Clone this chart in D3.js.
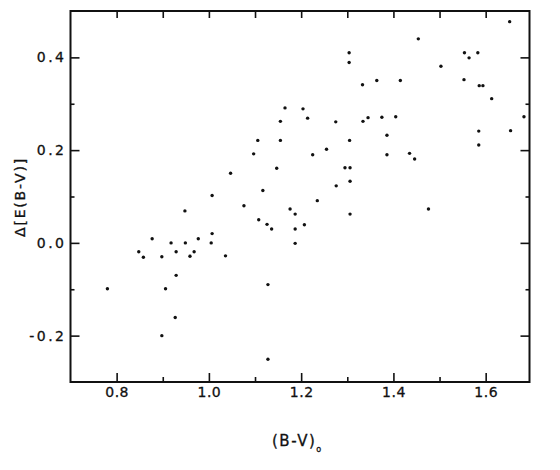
<!DOCTYPE html>
<html>
<head>
<meta charset="utf-8">
<script src="https://cdn.jsdelivr.net/npm/d3@7"></script>
<style>
    body { margin: 0; background: #fff; }
    text { font-family: 'DejaVu Sans', sans-serif; fill: #111; stroke: #111; stroke-width: 0.3px; }
</style>
</head>
<body>
<svg id="chart" width="560" height="470"></svg>
<script>
// DATA
// intrinsic colour (B-V)o of each star
var bv = [0.780, 0.848, 0.858, 0.877, 0.898, 0.898, 0.906, 0.918, 0.927, 0.929,
          0.929, 0.948, 0.949, 0.959, 0.968, 0.977, 1.005, 1.007, 1.007, 1.036,
          1.047, 1.076, 1.097, 1.106, 1.108, 1.117, 1.126, 1.128, 1.128, 1.136,
          1.147, 1.155, 1.155, 1.165, 1.176, 1.187, 1.187, 1.187, 1.204, 1.207,
          1.214, 1.225, 1.235, 1.255, 1.275, 1.276, 1.295, 1.304, 1.304, 1.305,
          1.306, 1.306, 1.306, 1.333, 1.334, 1.345, 1.364, 1.375, 1.386, 1.386,
          1.405, 1.415, 1.435, 1.446, 1.454, 1.476, 1.503, 1.553, 1.554, 1.564,
          1.583, 1.585, 1.585, 1.586, 1.594, 1.613, 1.652, 1.654, 1.683];
// colour excess difference Δ[E(B-V)]
var dE = [-0.099, -0.019, -0.031, 0.009, -0.030, -0.200, -0.099, 0.000, -0.161, -0.019,
          -0.070, 0.069, 0.000, -0.029, -0.019, 0.009, 0.000, 0.020, 0.102, -0.028,
          0.150, 0.080, 0.192, 0.221, 0.050, 0.113, 0.040, -0.090, -0.251, 0.030,
          0.161, 0.221, 0.262, 0.291, 0.073, 0.062, 0.030, -0.001, 0.289, 0.039,
          0.269, 0.190, 0.091, 0.202, 0.261, 0.123, 0.162, 0.410, 0.389, 0.221,
          0.162, 0.133, 0.062, 0.341, 0.262, 0.270, 0.350, 0.271, 0.232, 0.190,
          0.272, 0.350, 0.193, 0.181, 0.440, 0.073, 0.381, 0.352, 0.410, 0.399,
          0.410, 0.241, 0.211, 0.339, 0.339, 0.311, 0.477, 0.242, 0.272];

// ticks
var xMajor = [0.8, 1.0, 1.2, 1.4, 1.6];
var xMinor = [0.9, 1.1, 1.3, 1.5];
var xTop = [0.8, 0.9, 1.0, 1.1, 1.2, 1.3, 1.4, 1.5, 1.6];
var yMajor = [-0.2, 0.0, 0.2, 0.4];
var yMinor = [-0.1, 0.1, 0.3];

//.................................................................................................//
// SCALES
var svg = d3.select('#chart');
var pLeft = 70.5, pRight = 529.5, pTop = 11, pBottom = 382;

var x = d3.scaleLinear().domain([0.7, 1.695]).range([pLeft, pRight]);
var y = d3.scaleLinear().domain([-0.3, 0.5]).range([pBottom, pTop]);

// plain hyphen for negatives, as on the original plot
var fmt = function(d) { return d3.format('.1f')(d).replace('\u2212', '-'); };

//.................................................................................................//
// AXES
function styleAxis(g) {
    g.select('.domain').remove();
    g.selectAll('.tick line').attr('stroke', '#111').attr('stroke-width', 1.6);
}

// bottom
svg.append('g')
    .attr('transform', 'translate(0,' + pBottom + ')')
    .call(d3.axisBottom(x).tickValues(xMajor).tickSize(-9).tickPadding(5).tickFormat(fmt))
    .call(styleAxis)
    .selectAll('text')
        .style('font-size', '14px')
        .style('letter-spacing', '0.5px');
svg.append('g')
    .attr('transform', 'translate(0,' + pBottom + ')')
    .call(d3.axisBottom(x).tickValues(xMinor).tickSize(-5).tickFormat(''))
    .call(styleAxis);

// top
svg.append('g')
    .attr('transform', 'translate(0,' + pTop + ')')
    .call(d3.axisTop(x).tickValues(xTop).tickSize(-7).tickFormat(''))
    .call(styleAxis);

// left
svg.append('g')
    .attr('transform', 'translate(' + pLeft + ',0)')
    .call(d3.axisLeft(y).tickValues(yMajor).tickSize(-9).tickPadding(4).tickFormat(fmt))
    .call(styleAxis)
    .selectAll('text')
        .style('font-size', '14px')
        .style('letter-spacing', '2.5px');
svg.append('g')
    .attr('transform', 'translate(' + pLeft + ',0)')
    .call(d3.axisLeft(y).tickValues(yMinor).tickSize(-4).tickFormat(''))
    .call(styleAxis);

// right
svg.append('g')
    .attr('transform', 'translate(' + pRight + ',0)')
    .call(d3.axisRight(y).tickValues(yMajor).tickSize(-9).tickFormat(''))
    .call(styleAxis);
svg.append('g')
    .attr('transform', 'translate(' + pRight + ',0)')
    .call(d3.axisRight(y).tickValues(yMinor).tickSize(-4).tickFormat(''))
    .call(styleAxis);

// frame
svg.append('rect')
    .attr('x', pLeft)
    .attr('y', pTop)
    .attr('width', pRight - pLeft)
    .attr('height', pBottom - pTop)
    .style('fill', 'none')
    .style('stroke', '#111')
    .style('stroke-width', 2);

//.................................................................................................//
// POINTS
svg.append('g')
    .selectAll('circle')
    .data(bv)
    .join('circle')
        .attr('cx', function(d) { return x(d); })
        .attr('cy', function(d, i) { return y(dE[i]); })
        .attr('r', 1.7)
        .style('fill', '#111');

//.................................................................................................//
// LABELS
svg.append('text')
    .attr('transform', 'translate(25,197) rotate(-90)')
    .attr('text-anchor', 'middle')
    .style('font-size', '14px')
    .style('letter-spacing', '1.8px')
    .text('Δ[E(B-V)]');

var xl = svg.append('text')
    .attr('x', 272)
    .attr('y', 446)
    .style('font-size', '15px')
    .style('letter-spacing', '1.5px');
xl.append('tspan').text('(B-V)');
xl.append('tspan')
    .attr('dy', 6)
    .style('font-size', '8px')
    .text('o');
</script>
</body>
</html>
